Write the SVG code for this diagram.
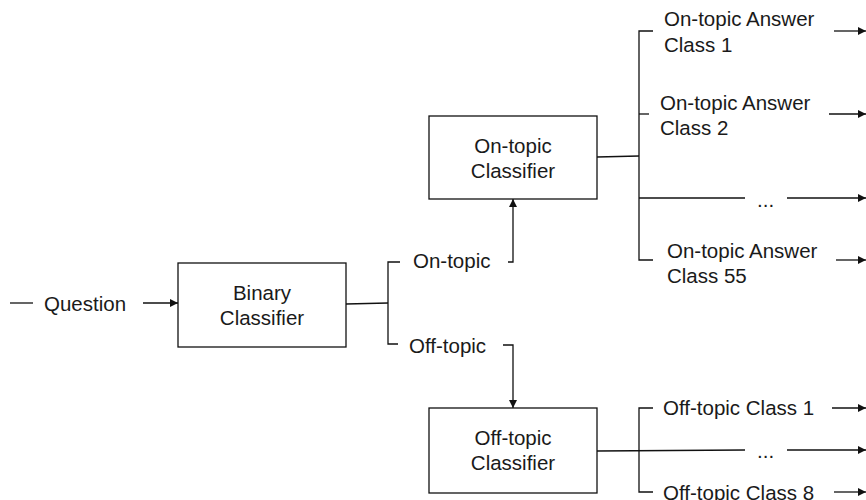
<svg xmlns="http://www.w3.org/2000/svg" width="866" height="500" viewBox="0 0 866 500">
<defs>
<marker id="ah" viewBox="0 0 10 10" refX="10" refY="5" markerWidth="8" markerHeight="8" markerUnits="userSpaceOnUse" orient="auto"><path d="M0,0 L10,5 L0,10 Z" fill="#111"/></marker>
<style>
text{font-family:"Liberation Sans",Arial,sans-serif;font-size:20.5px;fill:#1a1a1a}
.c{text-anchor:middle}
.box{fill:#fff;stroke:#111;stroke-width:1.3}
.ln{fill:none;stroke:#111;stroke-width:1.3}
.ar{fill:none;stroke:#111;stroke-width:1.3;marker-end:url(#ah)}
</style>
</defs>
<rect width="866" height="500" fill="#fff"/>
<g id="connectors">
<line class="ln" x1="10" y1="303" x2="33" y2="303"/>
<line class="ar" x1="143" y1="303" x2="178" y2="303"/>
<line class="ln" x1="346" y1="304" x2="388" y2="303"/>
<path class="ln" d="M400,262 H388 V344 H398"/>
<path class="ar" d="M508,262 H513 V199"/>
<path class="ar" d="M503,345 H513 V408"/>
<line class="ln" x1="597" y1="157" x2="639" y2="156"/>
<path class="ln" d="M653,31 H639 V260 H653"/>
<line class="ln" x1="639" y1="114" x2="649" y2="114"/>
<line class="ln" x1="639" y1="198" x2="745" y2="198"/>
<line class="ar" x1="834" y1="31" x2="866" y2="31"/>
<line class="ar" x1="829" y1="114" x2="866" y2="114"/>
<line class="ar" x1="787" y1="198" x2="866" y2="198"/>
<line class="ar" x1="836" y1="260" x2="866" y2="260"/>
<line class="ln" x1="597" y1="451" x2="745" y2="450"/>
<path class="ln" d="M653,408 H639 V492 H653"/>
<line class="ar" x1="832" y1="408" x2="866" y2="408"/>
<line class="ar" x1="787" y1="450" x2="866" y2="450"/>
<line class="ar" x1="834" y1="492" x2="866" y2="492"/>
</g>
<g id="question"><text x="44" y="311">Question</text></g>
<g id="binary">
<rect class="box" x="178" y="263" width="168" height="84"/>
<text class="c" x="262" y="300">Binary</text>
<text class="c" x="262" y="325">Classifier</text>
</g>
<g id="ontopic-label"><text x="413" y="268">On-topic</text></g>
<g id="offtopic-label"><text x="409" y="353">Off-topic</text></g>
<g id="ontopic">
<rect class="box" x="429" y="116" width="168" height="83"/>
<text class="c" x="513" y="153">On-topic</text>
<text class="c" x="513" y="178">Classifier</text>
</g>
<g id="offtopic">
<rect class="box" x="429" y="408" width="168" height="85"/>
<text class="c" x="513" y="445">Off-topic</text>
<text class="c" x="513" y="470">Classifier</text>
</g>
<g id="on1"><text x="664" y="26">On-topic Answer</text><text x="664" y="52">Class 1</text></g>
<g id="on2"><text x="660" y="110">On-topic Answer</text><text x="660" y="135">Class 2</text></g>
<g id="ondots"><text x="757" y="207">...</text></g>
<g id="on55"><text x="667" y="258">On-topic Answer</text><text x="667" y="283">Class 55</text></g>
<g id="off1"><text x="663" y="415">Off-topic Class 1</text></g>
<g id="offdots"><text x="757" y="458">...</text></g>
<g id="off8"><text x="663" y="499.5">Off-topic Class 8</text></g>
</svg>
